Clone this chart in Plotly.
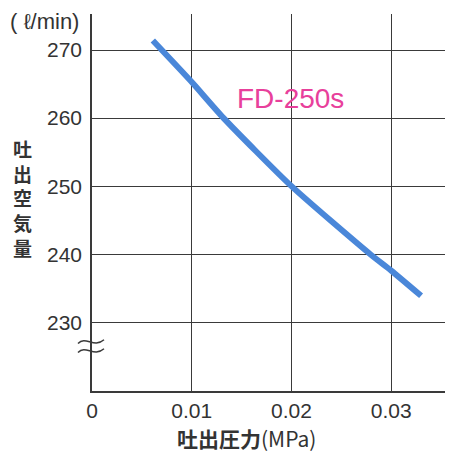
import plotly.graph_objects as go

# Data
pressure_mpa = [0.0061, 0.010, 0.0132, 0.020, 0.0279, 0.030, 0.033]
air_flow_lpm = [271.4, 265.3, 260.0, 250.0, 240.0, 237.6, 233.9]
x_ticks = [0, 0.01, 0.02, 0.03]
x_tick_labels = ["0", "0.01", "0.02", "0.03"]
y_ticks = [230, 240, 250, 260, 270]
y_tick_labels = ["230", "240", "250", "260", "270"]
series_name = "FD-250s"

NUM_FONT = "Liberation Sans, Arial, sans-serif"
JP_FONT = "Noto Sans CJK JP, sans-serif"
GRID = "#3a3a3a"

# page body has an 8px default margin -> size the figure to fit the window
OFF = 8
W, H = 453 - OFF, 452 - OFF
L, R, T, B = 92 - OFF, 2, 14 - OFF, 61

fig = go.Figure()
fig.add_trace(go.Scatter(
    x=pressure_mpa, y=air_flow_lpm, mode="lines", name=series_name,
    line=dict(color="#4a87d9", width=6, shape="spline", smoothing=0.6),
    showlegend=False,
))

fig.update_layout(
    width=W, height=H,
    margin=dict(l=L, r=R, t=T, b=B, autoexpand=False),
    paper_bgcolor="white", plot_bgcolor="white",
    xaxis=dict(range=[0, 0.036], tickvals=x_ticks, ticktext=x_tick_labels,
               showgrid=True, gridcolor=GRID, gridwidth=1.3,
               showline=True, linecolor=GRID, linewidth=1.5,
               zeroline=False, ticks="", ticklen=0,
               tickfont=dict(family=NUM_FONT, size=21, color="#333333")),
    yaxis=dict(range=[219.9, 275.3], tickvals=y_ticks, ticktext=y_tick_labels,
               showgrid=True, gridcolor=GRID, gridwidth=1.3,
               showline=True, linecolor=GRID, linewidth=1.5,
               zeroline=False, ticks="", ticklen=0, ticklabelstandoff=4,
               tickfont=dict(family=NUM_FONT, size=21, color="#333333")),
)

pw, ph = W - L - R, H - T - B


def px(xabs):
    return (xabs - OFF - L) / pw


def py(yabs):
    return 1 - (yabs - OFF - T) / ph


annos = []
annos.append(dict(text="( ℓ/min)", x=px(44), y=py(21), xref="paper", yref="paper",
                  showarrow=False, xanchor="center", yanchor="middle",
                  font=dict(family=NUM_FONT, size=22, color="#333333")))
annos.append(dict(text=series_name, x=px(290), y=py(98), xref="paper", yref="paper",
                  showarrow=False, xanchor="center", yanchor="middle",
                  font=dict(family=NUM_FONT, size=28, color="#e8409b")))
annos.append(dict(text="<b>吐出圧力</b>(MPa)", x=px(246), y=py(438), xref="paper", yref="paper",
                  showarrow=False, xanchor="center", yanchor="middle",
                  font=dict(family=JP_FONT, size=21, color="#333333")))
annos.append(dict(text="<br>".join("<b>" + c + "</b>" for c in "吐出空気量"),
                  x=px(22), y=py(198), xref="paper", yref="paper",
                  showarrow=False, xanchor="center", yanchor="middle",
                  font=dict(family=JP_FONT, size=19, color="#333333")))
fig.update_layout(annotations=annos)

# axis break mark
shapes = []
for yc in (342, 351):
    x0, x1 = px(78), px(104)
    y0 = py(yc)
    d = 0.018
    path = (f"M {x0},{y0 - 0.004} C {x0 + (x1 - x0) * 0.3},{y0 + d} "
            f"{x0 + (x1 - x0) * 0.6},{y0 - d} {x1},{y0 + 0.006}")
    shapes.append(dict(type="path", xref="paper", yref="paper", path=path,
                       line=dict(color=GRID, width=1.5)))
fig.update_layout(shapes=shapes)

fig.write_html("out.html")
